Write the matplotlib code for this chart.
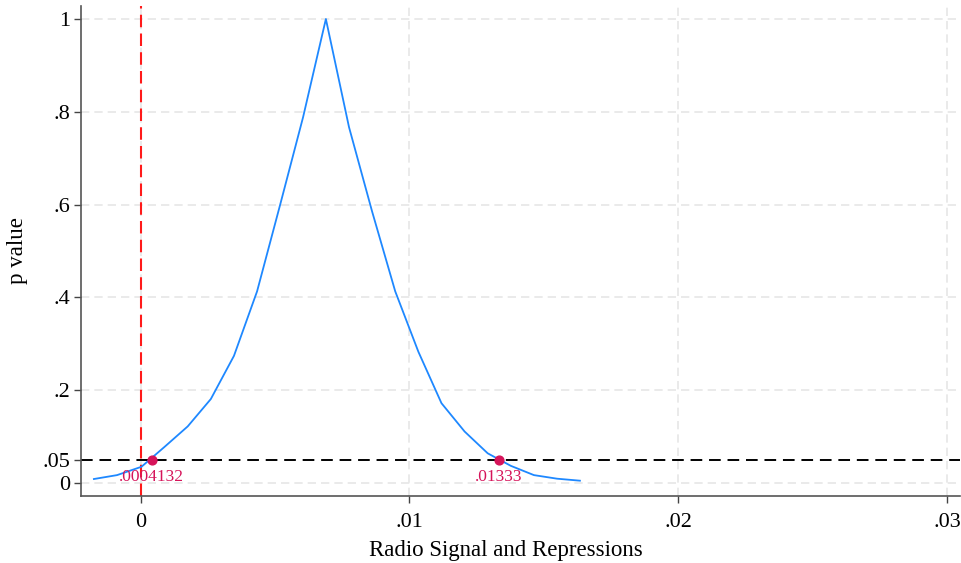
import numpy as np
import matplotlib
matplotlib.use("Agg")
import matplotlib.pyplot as plt

# p-value curve
beta = [-0.00174, -0.00088, 0.00003, 0.00089, 0.00175, 0.00261, 0.00347,
        0.00433, 0.00519, 0.00604, 0.00689, 0.00775, 0.00861, 0.00947,
        0.01033, 0.01119, 0.01205, 0.01291, 0.01377, 0.01463, 0.01549,
        0.01634]
pval = [0.0086, 0.017, 0.035, 0.078, 0.122, 0.181, 0.274,
        0.413, 0.600, 0.788, 1.0, 0.767, 0.585, 0.413,
        0.283, 0.172, 0.111, 0.064, 0.037, 0.017, 0.0093,
        0.005]

ci_bounds = [0.0004132, 0.01333]
ci_labels = [".0004132", ".01333"]
alpha = 0.05

yticks = [0, 0.05, 0.2, 0.4, 0.6, 0.8, 1]
ytick_labels = ["0", ".05", ".2", ".4", ".6", ".8", "1"]
xticks = [0, 0.01, 0.02, 0.03]
xtick_labels = ["0", ".01", ".02", ".03"]

plt.rcParams['font.family'] = ['Liberation Serif', 'DejaVu Serif']

fig = plt.figure(figsize=(9.61, 5.63), dpi=100)
ax = fig.add_axes([81 / 961, 67 / 563, 879 / 961, 490 / 563])

grid_kw = dict(color='#e6e6e6', lw=1.2, dashes=(5, 3), zorder=0)
for y in [0, 0.2, 0.4, 0.6, 0.8, 1]:
    ax.axhline(y, **grid_kw)
for x in xticks:
    ax.axvline(x, **grid_kw)

ax.plot(beta, pval, color='#1e88ff', lw=1.3, zorder=3)
ax.axvline(0, color='#ff1a1a', lw=1.5, dashes=(6, 3), zorder=2)
ax.axhline(alpha, color='black', lw=1.4, dashes=(6, 3.5), zorder=2)

ax.scatter(ci_bounds, [alpha] * 2, s=40, color='#d6145a', zorder=4)
for xb, lab in zip(ci_bounds, ci_labels):
    ax.annotate(lab, (xb, alpha), xytext=(0, -6.5), textcoords='offset points',
                ha='center', va='top', color='#d6145a', fontsize=12.5)

ax.set_xlim(-0.00222, 0.03048)
ax.set_ylim(-0.028, 1.028)
ax.set_xticks(xticks)
ax.set_xticklabels(xtick_labels)
ax.set_yticks(yticks)
ax.set_yticklabels(ytick_labels)
ax.tick_params(axis='both', labelsize=16, length=5, width=1, color='#444444', pad=3)
ax.tick_params(axis='x', pad=7)
for s in ['top', 'right']:
    ax.spines[s].set_visible(False)
for s in ['left', 'bottom']:
    ax.spines[s].set_color('#555555')
    ax.spines[s].set_linewidth(1.2)

ax.set_xlabel("Radio Signal and Repressions", fontsize=16.5)
ax.xaxis.set_label_coords(0.4835, -0.09)
ax.set_ylabel("p value", fontsize=16.5)
ax.yaxis.set_label_coords(-0.06, 0.5)

fig.savefig("out.png", dpi=100)
